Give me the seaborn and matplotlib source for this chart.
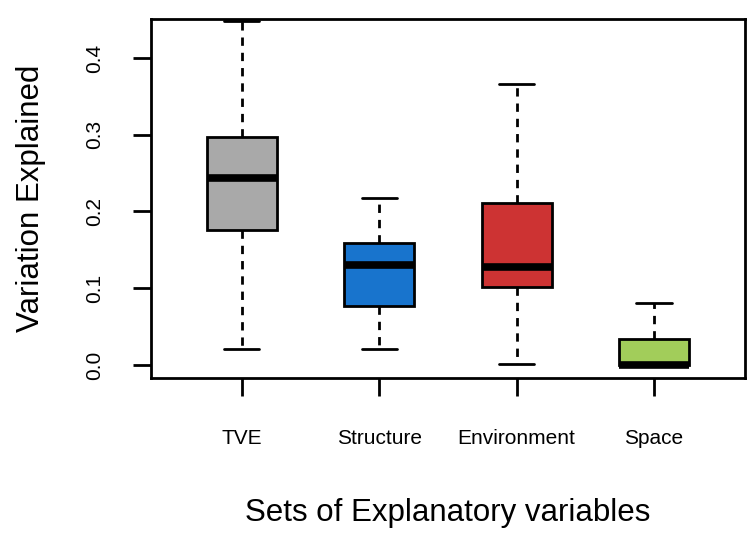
import numpy as np
import pandas as pd
import matplotlib
matplotlib.use("Agg")
import matplotlib.pyplot as plt
import seaborn as sns

# five-number summaries: min, q1, median, q3, max
groups = ['TVE', 'Structure', 'Environment', 'Space']
tve = [0.021, 0.176, 0.244, 0.297, 0.448]
structure = [0.021, 0.077, 0.130, 0.159, 0.218]
environment = [0.001, 0.102, 0.128, 0.211, 0.366]
space = [0.0, 0.0, 0.0, 0.034, 0.081]
colours = ['#A9A9A9', '#1874CD', '#CD3333', '#A2CD5A']
yticks = [0.0, 0.1, 0.2, 0.3, 0.4]

df = pd.DataFrame({
    'set': np.repeat(groups, 5),
    'value': tve + structure + environment + space,
})

sns.set_style('white')
plt.rcParams['font.family'] = ['Liberation Sans', 'DejaVu Sans']
plt.rcParams['text.color'] = 'black'
plt.rcParams['axes.labelcolor'] = 'black'

fig = plt.figure(figsize=(7.56, 5.37), dpi=100)
ax = fig.add_axes([0.2, 0.296, 0.785, 0.669])

lw = 2.0
sns.boxplot(data=df, x='set', y='value', hue='set', palette=colours,
            order=groups, legend=False, whis=(0, 100), width=0.51,
            linecolor='black', linewidth=lw, saturation=1, ax=ax,
            medianprops=dict(linewidth=5.5, color='black', solid_capstyle='butt'),
            whiskerprops=dict(linestyle=(0, (3, 2.5)), linewidth=lw),
            capprops=dict(linewidth=lw))

ax.set_xlim(-0.66, 3.66)
ax.set_ylim(-0.017, 0.451)
ax.set_yticks(yticks)
ax.set_yticklabels([f'{t:.1f}' for t in yticks], rotation=90, va='center')

for s in ax.spines.values():
    s.set_visible(True)
    s.set_color('black')
    s.set_linewidth(lw)

ax.tick_params(axis='both', direction='out', length=13, width=lw,
               colors='black', labelcolor='black', left=True, bottom=True)
ax.tick_params(axis='x', labelsize=15, pad=24)
ax.tick_params(axis='y', labelsize=15, pad=21)

ax.set_xlabel('Sets of Explanatory variables', fontsize=22.5, labelpad=36)
ax.set_ylabel('Variation Explained', fontsize=22.5, labelpad=28)

fig.savefig('out.png', dpi=100)
